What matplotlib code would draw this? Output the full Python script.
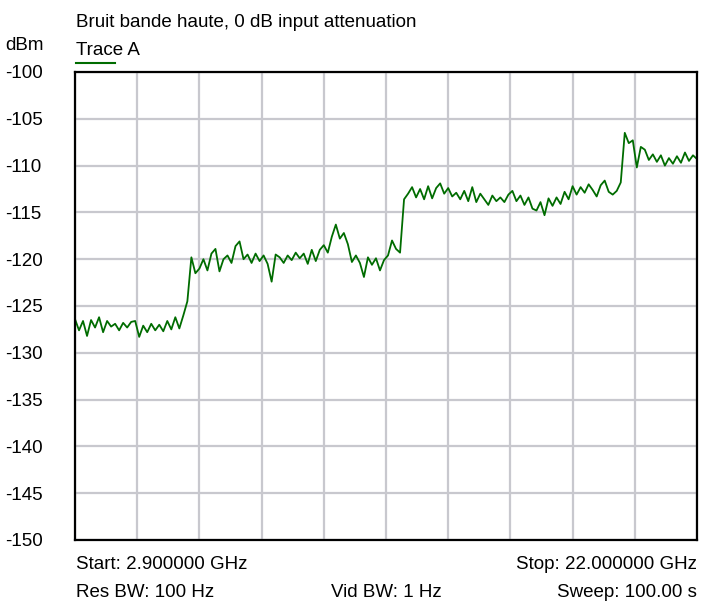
import numpy as np
import matplotlib
matplotlib.use("Agg")
import matplotlib.pyplot as plt

plt.rcParams['font.family'] = ['Liberation Sans', 'DejaVu Sans']
plt.rcParams['axes.unicode_minus'] = False

title = "Bruit bande haute, 0 dB input attenuation"
trace_name = "Trace A"
y_unit = "dBm"
start_ghz = 2.9
stop_ghz = 22.0
y_ticks = [-100, -105, -110, -115, -120, -125, -130, -135, -140, -145, -150]
x_divisions = 10
footer_start = "Start: 2.900000 GHz"
footer_stop = "Stop: 22.000000 GHz"
footer_rbw = "Res BW: 100 Hz"
footer_vbw = "Vid BW: 1 Hz"
footer_sweep = "Sweep: 100.00 s"

# Trace A levels (dBm), read along the sweep
trace_dbm = [
    -126.4, -127.6, -126.6, -128.2, -126.5, -127.3, -126.2, -127.8, -126.6, -127.2,
    -126.9, -127.6, -126.8, -127.3, -126.7, -126.6, -128.3, -127.1, -127.8, -126.9,
    -127.6, -127.0, -127.7, -126.6, -127.5, -126.2, -127.4, -126.0, -124.5, -119.8,
    -121.5, -121.0, -120.0, -121.2, -119.4, -118.9, -121.3, -120.0, -119.6, -120.4,
    -118.6, -118.1, -120.0, -119.5, -120.4, -119.4, -120.2, -119.6, -120.5, -122.4,
    -119.5, -119.8, -120.4, -119.6, -120.1, -119.3, -119.9, -119.4, -120.5, -119.0,
    -120.2, -119.0, -118.5, -119.3, -117.6, -116.3, -117.8, -117.2, -118.4, -120.3,
    -119.6, -120.4, -121.9, -119.8, -120.6, -119.9, -121.2, -120.1, -119.6, -118.0,
    -118.9, -119.3, -113.6, -113.0, -112.3, -113.4, -112.5, -113.6, -112.2, -113.5,
    -112.4, -111.9, -113.0, -112.4, -113.3, -112.9, -113.6, -112.7, -113.8, -112.3,
    -113.9, -113.0, -113.6, -114.2, -113.2, -113.8, -113.4, -113.9, -113.1, -112.7,
    -113.8, -113.2, -114.2, -113.4, -114.6, -114.8, -113.9, -115.3, -113.5, -114.3,
    -113.4, -114.1, -112.8, -113.6, -112.2, -113.1, -112.3, -112.9, -112.0, -112.6,
    -113.3, -112.1, -111.6, -112.8, -113.1, -112.7, -111.8, -106.5, -107.6, -107.3,
    -110.2, -108.0, -108.3, -109.4, -108.8, -109.6, -108.9, -110.0, -109.2, -109.8,
    -109.0, -109.7, -108.6, -109.5, -108.9, -109.3,
]
freq_ghz = np.linspace(start_ghz, stop_ghz, len(trace_dbm))

W, H = 714, 606
fig = plt.figure(figsize=(W / 100, H / 100), dpi=100)
L, R, T, B = 75, 697, 72, 540
ax = fig.add_axes([L / W, 1 - B / H, (R - L) / W, (B - T) / H])

grid_color = '#c8c8ce'
ax.set_xlim(start_ghz, stop_ghz)
ax.set_ylim(min(y_ticks), max(y_ticks))
ax.set_xticks(np.linspace(start_ghz, stop_ghz, x_divisions + 1))
ax.set_yticks(y_ticks)
ax.grid(True, color=grid_color, linewidth=1.6)
ax.set_axisbelow(True)
ax.tick_params(axis='x', length=0, labelbottom=False)
ax.tick_params(axis='y', length=0, pad=50.4, labelsize=13.5)
for lbl in ax.get_yticklabels():
    lbl.set_horizontalalignment('left')
for s in ax.spines.values():
    s.set_linewidth(1.6)
    s.set_color('black')

trace_color = '#006c00'
ax.plot(freq_ghz, trace_dbm, color=trace_color, linewidth=1.3)

fs = 13.5
def ftext(x, y, s, ha='left'):
    fig.text(x / W, 1 - y / H, s, ha=ha, va='baseline', fontsize=fs)

ftext(76, 27, title)
ftext(76, 55, trace_name)
ftext(5, 50, y_unit)
fig.add_artist(plt.Line2D([76 / W, 115 / W], [1 - 63 / H, 1 - 63 / H], color=trace_color, linewidth=1.5))
ftext(76, 569, footer_start)
ftext(697, 569, footer_stop, ha='right')
ftext(76, 597, footer_rbw)
ftext(386, 597, footer_vbw, ha='center')
ftext(697, 597, footer_sweep, ha='right')

fig.savefig('out.png', dpi=100)
